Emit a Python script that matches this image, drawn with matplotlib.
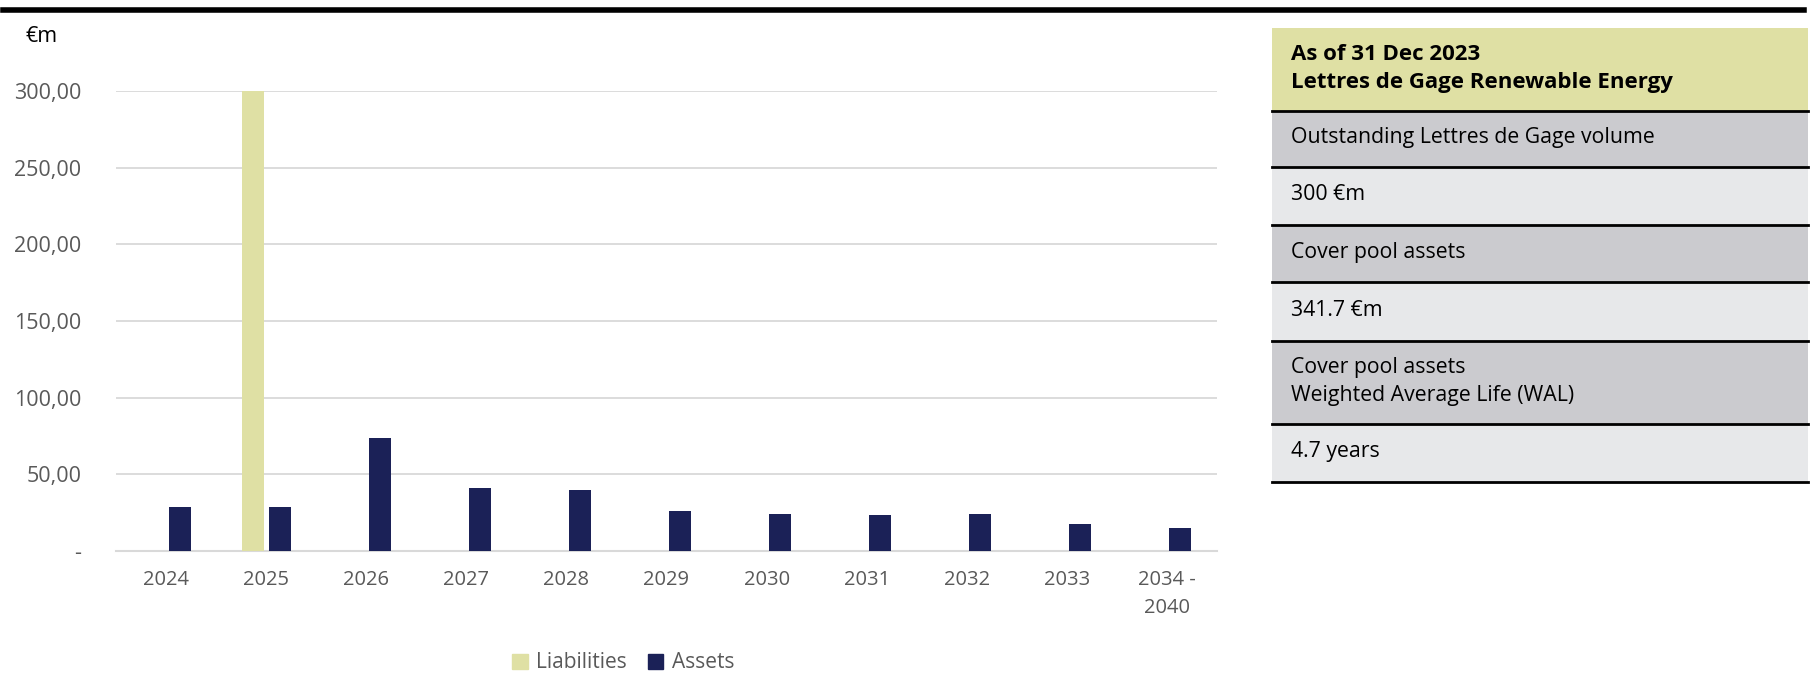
import matplotlib.pyplot as plt
import numpy as np
from matplotlib.patches import Rectangle, Patch
from matplotlib.lines import Line2D
from matplotlib.ticker import FuncFormatter

plt.rcParams['font.family'] = ['Open Sans', 'DejaVu Sans']

# maturity profile, €m
categories = ['2024', '2025', '2026', '2027', '2028', '2029', '2030',
              '2031', '2032', '2033', '2034 -\n2040']
liabilities = [0, 300, 0, 0, 0, 0, 0, 0, 0, 0, 0]
assets = [28.5, 29.0, 73.5, 41.0, 40.0, 26.0, 24.0, 23.5, 24.0, 17.5, 14.7]
y_ticks = [0, 50, 100, 150, 200, 250, 300]

# key figures box
box_header = 'As of 31 Dec 2023\nLettres de Gage Renewable Energy'
box_rows = ['Outstanding Lettres de Gage volume',
            '300 €m',
            'Cover pool assets',
            '341.7 €m',
            'Cover pool assets\nWeighted Average Life (WAL)',
            '4.7 years']

liab_col = '#dfe0a4'
asset_col = '#1b2157'
grid_col = '#d9d9d9'
txt_col = '#595959'

W, H = 1812, 676
fig = plt.figure(figsize=(W / 100, H / 100), dpi=100)

def fx(px):
    return px / W

def fy(py):
    return 1 - py / H

ax = fig.add_axes([fx(116), fy(551), fx(1217) - fx(116), fy(91) - fy(551)])
x = np.arange(len(categories))
bw = 0.22
off = 0.135
ax.bar(x - off, liabilities, bw, color=liab_col, zorder=3, label='Liabilities')
ax.bar(x + off, assets, bw, color=asset_col, zorder=3, label='Assets')

ax.set_xlim(-0.5, len(categories) - 0.5)
ax.set_ylim(0, 300)
ax.set_yticks(y_ticks)
ax.yaxis.set_major_formatter(FuncFormatter(
    lambda v, p: '-' if v == 0 else f'{v:.2f}'.replace('.', ',')))
ax.set_xticks(x)
ax.set_xticklabels(categories, linespacing=1.5)
ax.grid(axis='y', color=grid_col, lw=1.3, zorder=0)
for s in ['top', 'right', 'left']:
    ax.spines[s].set_visible(False)
ax.spines['bottom'].set_color(grid_col)
ax.spines['bottom'].set_linewidth(1.5)
ax.tick_params(axis='both', length=0, colors=txt_col)
ax.tick_params(axis='y', pad=25, labelsize=15.5)
ax.tick_params(axis='x', pad=14, labelsize=14.5)

fig.text(fx(25), fy(36), '€m', fontsize=15.5, color='black', va='center')

handles = [Patch(color=liab_col, label='Liabilities'),
           Patch(color=asset_col, label='Assets')]
leg = fig.legend(handles=handles, loc='center', bbox_to_anchor=(fx(623), fy(663)),
                 ncol=2, frameon=False, handlelength=0.75,
                 handleheight=0.75, handletextpad=0.4, columnspacing=1.0,
                 prop={'size': 15})
for t in leg.get_texts():
    t.set_color(txt_col)

# heavy rule across the top
fig.add_artist(Line2D([fx(3), fx(1804)], [fy(10), fy(10)], color='black', lw=4))

# key figures box
bx0, bx1 = 1272, 1808
bounds = [28, 111, 167, 225, 282, 341, 424, 482]
fills = ['#dfe0a4', '#cbcbcf', '#e7e8ea', '#cbcbcf', '#e7e8ea', '#cbcbcf', '#e7e8ea']
texts = [box_header] + box_rows
for i, (fc, t) in enumerate(zip(fills, texts)):
    top, bot = bounds[i], bounds[i + 1]
    fig.add_artist(Rectangle((fx(bx0), fy(bot)), fx(bx1) - fx(bx0), fy(top) - fy(bot),
                             transform=fig.transFigure, facecolor=fc, edgecolor='none'))
    if i > 0:
        fig.add_artist(Line2D([fx(bx0), fx(bx1)], [fy(top), fy(top)], color='black', lw=2))
    fig.text(fx(1291), fy((top + bot) / 2 - 1), t,
             fontsize=16 if i == 0 else 15.3, va='center', ha='left',
             color='black', linespacing=1.4,
             fontweight='bold' if i == 0 else 'normal')
fig.add_artist(Line2D([fx(bx0), fx(bx1)], [fy(bounds[-1]), fy(bounds[-1])], color='black', lw=2))

fig.savefig('out.png', dpi=100)
